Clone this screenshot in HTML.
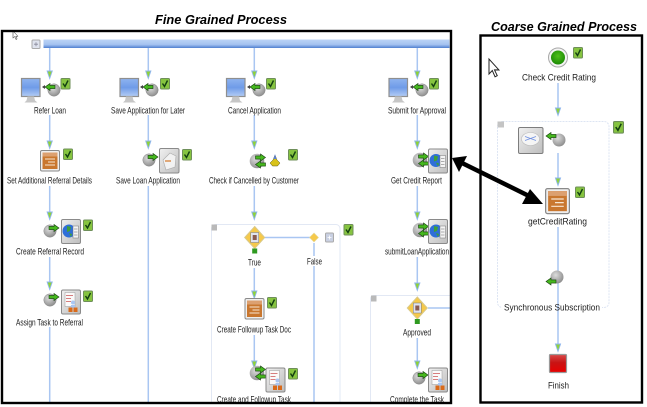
<!DOCTYPE html>
<html><head><meta charset="utf-8"><style>
html,body{margin:0;padding:0;background:#fff}
svg{display:block}
.l{font:9.5px "Liberation Sans",sans-serif;fill:#1c1c1c;text-anchor:start}
.t{font:italic bold 12.5px "Liberation Sans",sans-serif;fill:#000}
.c{stroke:#a9c6f2;stroke-width:1.5;fill:none}
.s{filter:blur(.35px)}
</style></head><body>
<svg width="647" height="407" viewBox="0 0 647 407" xmlns="http://www.w3.org/2000/svg">
<defs>
<linearGradient id="bar" x1="0" y1="0" x2="0" y2="1"><stop offset="0" stop-color="#bcd4f6"/><stop offset=".6" stop-color="#a4c2f0"/><stop offset="1" stop-color="#4f7fd0"/></linearGradient>
<linearGradient id="scr" x1="0" y1="0" x2="0" y2="1"><stop offset="0" stop-color="#8fb4f0"/><stop offset=".5" stop-color="#6f9be8"/><stop offset="1" stop-color="#b4cdf5"/></linearGradient>
<linearGradient id="gb" x1="0" y1="0" x2="1" y2="1"><stop offset="0" stop-color="#f0f0f0"/><stop offset="1" stop-color="#bdbdbd"/></linearGradient>
<radialGradient id="bg" cx=".4" cy=".35" r=".7"><stop offset="0" stop-color="#dcdcdc"/><stop offset="1" stop-color="#8a8a8a"/></radialGradient>
<radialGradient id="gr" cx=".5" cy=".4" r=".6"><stop offset="0" stop-color="#4fc01a"/><stop offset="1" stop-color="#1c8a05"/></radialGradient>
<linearGradient id="red" x1="0" y1="0" x2="0" y2="1"><stop offset="0" stop-color="#d94a4a"/><stop offset=".45" stop-color="#c81414"/><stop offset="1" stop-color="#e80000"/></linearGradient>
<g id="chk"><rect x=".5" y=".5" width="9" height="10.5" rx="1" fill="#86c440" stroke="#6f8f5a"/><path d="M2.5 5.5 L4.5 8.5 L7.5 2.5" fill="none" stroke="#123f10" stroke-width="1.4"/></g>
<g id="arr"><path d="M-2.6 -6 L2.6 -6 L0 1.5 Z" fill="#8fd23a" stroke="#8fb6ee" stroke-width=".9"/></g>
<g id="mon"><rect x="0" y="0" width="18.5" height="18" fill="url(#scr)" stroke="#8f8f8f" stroke-width="1.2"/><path d="M6 18 L12.5 18 L13.5 22 L16 24 L3 24 L5 22 Z" fill="#c6c6c6"/></g>
<g id="ballx"><circle r="6.2" fill="url(#bg)" stroke="#8a8a8a" stroke-width=".5"/></g>
<g id="ar"><path d="M-5 0 L0 -3.5 L0 -1.6 L5 -1.6 L5 1.6 L0 1.6 L0 3.5 Z" fill="#46b81e" stroke="#173f10" stroke-width=".6"/></g>
<g id="arR"><path d="M5 0 L0 -3.5 L0 -1.6 L-5 -1.6 L-5 1.6 L0 1.6 L0 3.5 Z" fill="#46b81e" stroke="#173f10" stroke-width=".6"/></g>
<g id="usr"><use href="#ballx" x="2"/><use href="#ar" x="-2" y="-3"/><path d="M-10 -3 l3 -2 l0 4z" fill="#444"/></g>
<g id="out"><use href="#ballx"/><use href="#arR" x="4" y="-3"/></g>
<g id="dbl"><circle cx="0" cy="0" r="7.3" fill="url(#bg)"/><use href="#arR" x="3.5" y="-3.5"/><use href="#ar" x="3.5" y="3.5"/></g>
<g id="box"><rect x=".5" y=".5" width="19" height="24" rx="1.5" fill="url(#gb)" stroke="#8a8a8a"/></g>
<g id="web"><use href="#box"/><circle cx="8" cy="12" r="6.5" fill="#2f6fd8"/><path d="M6 7 l4 1 l-1 4 l-3 1z M8 14 l3 1 l-1 3z" fill="#3fa03a"/><rect x="12" y="7" width="5.5" height="12" fill="#f4f4f4" stroke="#777" stroke-width=".5"/><path d="M13 10h3.5M13 13h3.5M13 16h3.5" stroke="#666" stroke-width=".6"/></g>
<g id="task"><use href="#box"/><rect x="4" y="3" width="10" height="14" fill="#fafafa" stroke="#999" stroke-width=".5"/><path d="M5 6h7M5 9h5M5 12h5" stroke="#c55" stroke-width=".7"/><circle cx="12" cy="13" r="2" fill="#a9c6f2"/><rect x="10" y="15.5" width="4" height="3" fill="#a9c6f2"/><rect x="7.5" y="18" width="4" height="4.5" fill="#d96a1a"/><rect x="12.5" y="18" width="4" height="4.5" fill="#d96a1a"/></g>
<g id="doc"><rect x=".5" y=".5" width="19" height="20.5" rx="1.5" fill="#eee" stroke="#8a8a8a"/><rect x="2.5" y="2.5" width="15" height="16.5" fill="#c9772f"/><rect x="2.5" y="2.5" width="15" height="4" fill="#dca070"/><path d="M5 9h10M8 12h7M5 15h10" stroke="#f7e6d2" stroke-width="1"/></g>
<g id="dia"><path d="M0 -11 L10 0 L0 11 L-10 0 Z" fill="#f6c94a" stroke="#d9c98a"/><rect x="-4" y="-5" width="8" height="10" fill="#dfe3ef" stroke="#777" stroke-width=".5"/><rect x="-2" y="-2.5" width="4" height="5" fill="#8a5a50"/><rect x="-2.5" y="11" width="5" height="5" fill="#2f9a20"/></g>
<g id="cur"><path d="M0 0 L0 13 L3 10 L5.5 15.5 L7.5 14.5 L5 9.5 L9 9.5 Z" fill="#fff" stroke="#222" stroke-width=".9"/></g>
<clipPath id="cl"><rect x="3" y="32" width="447" height="370"/></clipPath>
</defs>
<rect width="647" height="407" fill="#fff"/>

<g class="s">
<g clip-path="url(#cl)">
<rect x="43.5" y="39.5" width="406" height="8.5" fill="url(#bar)"/>
<rect x="32" y="40" width="8" height="8.5" rx="1" fill="#dfe3ee" stroke="#aaa"/>
<path d="M34 44.2h4M36 42.2v4" stroke="#889" stroke-width=".8"/>
<g class="c">
<path d="M49.7 48V72M49.7 115V142M49.7 186V212M49.7 257V283M49.7 327V402"/>
<path d="M148.3 48V72M148.3 115V142M148.3 186V402"/>
<path d="M254.3 48V72M254.3 115V142M254.3 186V212M254.3 268V292M254.3 335V362"/>
<path d="M417.3 48V72M417.3 115V142M417.3 186V212M417.3 257V284M417.3 338V362"/>
<path d="M265 237.5H314M314 243V256M314 266V402M428 308H450"/>
</g>
<g>
<use href="#arr" x="49.7" y="77"/><use href="#arr" x="148.3" y="77"/><use href="#arr" x="254.3" y="77"/><use href="#arr" x="417.3" y="77"/>
<use href="#arr" x="49.7" y="147"/><use href="#arr" x="148.3" y="147"/><use href="#arr" x="254.3" y="147"/><use href="#arr" x="417.3" y="147"/>
<use href="#arr" x="49.7" y="218"/><use href="#arr" x="254.3" y="218"/><use href="#arr" x="417.3" y="218"/>
<use href="#arr" x="49.7" y="288"/><use href="#arr" x="254.3" y="297"/><use href="#arr" x="417.3" y="289"/>
<use href="#arr" x="254.3" y="367"/><use href="#arr" x="417.3" y="367"/>
</g>

<rect x="211.5" y="224.5" width="128.5" height="200" rx="4" fill="none" stroke="#e2e8f4" stroke-width="1"/>
<rect x="211.5" y="224.5" width="5.5" height="6" fill="#b9b9b9"/>
<rect x="370.5" y="295.5" width="100" height="130" rx="3" fill="none" stroke="#e2e8f4" stroke-width="1"/>
<rect x="371" y="295.5" width="5.5" height="6" fill="#b9b9b9"/>

<use href="#mon" x="21.5" y="78.5"/><use href="#usr" x="52" y="90"/><use href="#chk" x="60.5" y="78"/>
<use href="#mon" x="120" y="78.5"/><use href="#usr" x="150" y="90"/><use href="#chk" x="160" y="78"/>
<use href="#mon" x="226.5" y="78.5"/><use href="#usr" x="257" y="90"/><use href="#chk" x="266" y="78"/>
<use href="#mon" x="389" y="78.5"/><use href="#usr" x="420" y="90"/><use href="#chk" x="429" y="78"/>

<use href="#doc" x="40" y="150"/><use href="#chk" x="63" y="148.5"/>
<use href="#out" x="149" y="160"/>
<rect x="159.5" y="148.5" width="19.5" height="24.5" rx="1.5" fill="url(#gb)" stroke="#8a8a8a"/>
<path d="M163 160 L170 153 L176 156 L175 167 L166 170 Z" fill="#f2f2f2" stroke="#aaa" stroke-width=".6"/>
<rect x="165" y="160" width="6" height="2" fill="#e0a878"/>
<use href="#chk" x="182" y="149"/>
<use href="#dbl" x="257" y="161"/>
<path d="M275 155 l2 5 l3 3 l-2.5 3 h-5 l-2.5 -3 l3 -3z" fill="#d8c21a" stroke="#5a5a20" stroke-width=".5"/>
<path d="M275 154 l1.5 5 h-3z" fill="#5c7fd0"/>
<use href="#chk" x="288" y="149"/>
<use href="#dbl" x="420" y="160"/><use href="#web" x="428" y="148.5"/>

<use href="#out" x="50" y="231"/><use href="#web" x="61" y="219"/><use href="#chk" x="83" y="219.5"/>
<use href="#out" x="50" y="300"/><use href="#task" x="61" y="289.5"/><use href="#chk" x="83" y="290.5"/>
<use href="#dbl" x="420" y="230"/><use href="#web" x="428" y="219"/>

<use href="#dia" x="254.7" y="237.5"/>
<path d="M314 233 L318.5 237.5 L314 242 L309.5 237.5 Z" fill="#f6c94a" stroke="#e6d99a" stroke-width=".6"/>
<rect x="325.5" y="233" width="8" height="9" rx="1" fill="#c9d0e2" stroke="#aaa"/>
<path d="M327.5 237.5h4M329.5 235.5v4" stroke="#fff" stroke-width=".8"/>
<use href="#chk" x="343.5" y="224"/>
<use href="#doc" x="244.5" y="298"/><use href="#chk" x="267" y="297"/>
<use href="#dbl" x="257" y="373"/><use href="#task" x="265.5" y="367.5"/><use href="#chk" x="288" y="368"/>
<use href="#dia" x="417.3" y="308"/>
<use href="#out" x="419" y="378"/><use href="#task" x="428" y="367.5"/>

<text class="l" x="34" y="113.5" textLength="32" lengthAdjust="spacingAndGlyphs">Refer Loan</text>
<text class="l" x="111" y="113.5" textLength="74" lengthAdjust="spacingAndGlyphs">Save Application for Later</text>
<text class="l" x="228" y="113.5" textLength="53" lengthAdjust="spacingAndGlyphs">Cancel Application</text>
<text class="l" x="388" y="113.5" textLength="58" lengthAdjust="spacingAndGlyphs">Submit for Approval</text>
<text class="l" x="7" y="183.5" textLength="85" lengthAdjust="spacingAndGlyphs">Set Additional Referral Details</text>
<text class="l" x="116" y="183.5" textLength="64" lengthAdjust="spacingAndGlyphs">Save Loan Application</text>
<text class="l" x="209" y="183.5" textLength="90" lengthAdjust="spacingAndGlyphs">Check if Cancelled by Customer</text>
<text class="l" x="391" y="183.5" textLength="51" lengthAdjust="spacingAndGlyphs">Get Credit Report</text>
<text class="l" x="16" y="254.5" textLength="68" lengthAdjust="spacingAndGlyphs">Create Referral Record</text>
<text class="l" x="385" y="254.5" textLength="64" lengthAdjust="spacingAndGlyphs">submitLoanApplication</text>
<text class="l" x="16" y="325.5" textLength="67" lengthAdjust="spacingAndGlyphs">Assign Task to Referral</text>
<text class="l" x="248" y="265.5" textLength="13" lengthAdjust="spacingAndGlyphs">True</text>
<text class="l" x="307" y="264.5" textLength="15" lengthAdjust="spacingAndGlyphs">False</text>
<text class="l" x="217" y="332.5" textLength="74" lengthAdjust="spacingAndGlyphs">Create Followup Task Doc</text>
<text class="l" x="403" y="335.5" textLength="28" lengthAdjust="spacingAndGlyphs">Approved</text>
<text class="l" x="217" y="402.5" textLength="74" lengthAdjust="spacingAndGlyphs">Create and Followup Task</text>
<text class="l" x="390" y="402.5" textLength="54" lengthAdjust="spacingAndGlyphs">Complete the Task</text>
<use href="#cur" transform="translate(13 31) scale(.55)"/>
</g>

<!-- Right panel -->
<rect x="497.5" y="121.5" width="111.5" height="186" rx="5" fill="none" stroke="#dde5f3" stroke-dasharray="2 1"/>
<rect x="497.5" y="121.5" width="6.5" height="6" fill="#c4c4c4"/>
<g class="c">
<path d="M558 83V109M558 153V178M558 227V345"/>
</g>
<use href="#arr" x="558" y="114"/><use href="#arr" x="558" y="184"/><use href="#arr" x="558" y="350"/>
<circle cx="558" cy="57.5" r="9.5" fill="#f4f4f4" stroke="#a8a8a8"/>
<circle cx="558" cy="57.5" r="7" fill="url(#gr)"/>
<use href="#chk" x="573" y="47"/>
<use href="#chk" transform="translate(613 121) scale(1.1)"/>
<rect x="518.5" y="127.5" width="24.5" height="26" rx="1.5" fill="url(#gb)" stroke="#7d7d7d"/>
<ellipse cx="530.5" cy="139" rx="9" ry="6.5" fill="#f5f5f5" stroke="#bbb" stroke-width=".6"/>
<path d="M525 136.5l11 4M525 140.5l11-4" stroke="#6f8fe0" stroke-width=".9"/>
<circle cx="559" cy="140" r="6.5" fill="url(#bg)"/>
<use href="#ar" x="551" y="136"/>
<g transform="translate(545 188) scale(1.25 1.22)"><use href="#doc"/></g>
<use href="#chk" x="575" y="186.5"/>
<circle cx="557" cy="277" r="6.5" fill="url(#bg)"/>
<use href="#ar" x="551" y="281.5"/>
<rect x="549.5" y="354.5" width="17" height="18" rx="1" fill="url(#red)" stroke="#999" stroke-width="1.2"/>
<use href="#cur" transform="translate(489 59) scale(1.1 1.15)"/>

<text class="l" x="522" y="80.5" textLength="74" lengthAdjust="spacingAndGlyphs">Check Credit Rating</text>
<text class="l" x="528" y="224.5" textLength="59" lengthAdjust="spacingAndGlyphs">getCreditRating</text>
<rect x="502" y="304" width="100" height="7" fill="#fff"/>
<path d="M558 304V311" class="c"/>
<text class="l" x="504" y="310.5" textLength="96" lengthAdjust="spacingAndGlyphs">Synchronous Subscription</text>
<text class="l" x="548" y="388.5" textLength="21" lengthAdjust="spacingAndGlyphs">Finish</text>
</g>

<rect x="2" y="31" width="449" height="372" fill="none" stroke="#000" stroke-width="2.4"/>
<text class="t" x="155" y="24" textLength="132" lengthAdjust="spacingAndGlyphs">Fine Grained Process</text>
<rect x="480.5" y="35.5" width="161.5" height="367" fill="none" stroke="#000" stroke-width="2.4"/>
<text class="t" x="491" y="31" textLength="146" lengthAdjust="spacingAndGlyphs">Coarse Grained Process</text>

<!-- Bold double arrow -->
<path d="M462 163 L533 198" stroke="#000" stroke-width="4.5" fill="none"/>
<path d="M452 158 L467 156 L459 172 Z M543 204 L522 204 L530 189 Z" fill="#000"/>
</svg>
</body></html>
